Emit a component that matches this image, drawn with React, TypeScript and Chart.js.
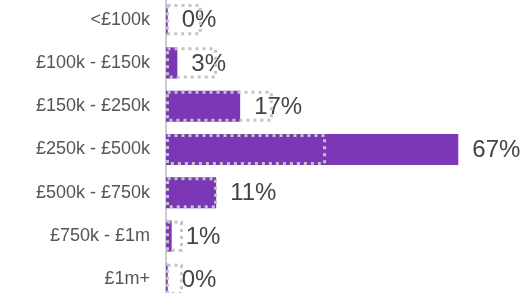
import React, { useEffect, useRef } from "react";
import { Chart, registerables } from "chart.js";

Chart.register(...registerables);

const categories = [
  "<£100k",
  "£100k - £150k",
  "£150k - £250k",
  "£250k - £500k",
  "£500k - £750k",
  "£750k - £1m",
  "£1m+",
];
const shareValues = [0.4, 2.6, 17, 67, 11.5, 1.3, 0.4];
const benchmarkValues = [8.2, 11.7, 24.5, 36.7, 11.7, 3.9, 3.9];
const valueLabels = ["0%", "3%", "17%", "67%", "11%", "1%", "0%"];

const FONT = "'Liberation Sans', Arial, sans-serif";

const overlayPlugin = {
  id: "overlay",
  afterDatasetsDraw(chart: any) {
    const ctx = chart.ctx;
    const shareMeta = chart.getDatasetMeta(0);
    const benchMeta = chart.getDatasetMeta(1);
    ctx.save();
    // value labels
    ctx.font = `24px ${FONT}`;
    ctx.fillStyle = "#444444";
    ctx.textAlign = "left";
    ctx.textBaseline = "middle";
    shareMeta.data.forEach((el: any, i: number) => {
      const p = el.getProps(["x", "y"], true);
      ctx.fillText(valueLabels[i], p.x + 14, p.y + 1);
    });
    // dotted benchmark boxes
    ctx.strokeStyle = "#c4c4c4";
    ctx.lineWidth = 3;
    ctx.setLineDash([3, 4]);
    benchMeta.data.forEach((el: any) => {
      const p = el.getProps(["x", "y", "base", "height"], true);
      const left = Math.min(p.base, p.x);
      const right = Math.max(p.base, p.x);
      const top = p.y - p.height / 2;
      const h = p.height;
      ctx.strokeRect(left + 1.5, top + 1.5, right - left - 3, h - 3);
    });
    ctx.restore();
  },
};

export default function App() {
  const ref = useRef<HTMLCanvasElement | null>(null);
  useEffect(() => {
    if (!ref.current) return;
    const chart = new Chart(ref.current, {
      type: "bar",
      data: {
        labels: categories,
        datasets: [
          {
            label: "Share",
            data: shareValues,
            backgroundColor: "#7b37b6",
            borderWidth: 0,
            grouped: false,
            barPercentage: 0.72,
            categoryPercentage: 1,
          } as any,
          {
            label: "Benchmark",
            data: benchmarkValues,
            backgroundColor: "rgba(0,0,0,0)",
            borderWidth: 0,
            grouped: false,
            barPercentage: 0.72,
            categoryPercentage: 1,
          } as any,
        ],
      },
      options: {
        indexAxis: "y",
        animation: false,
        responsive: false,
        maintainAspectRatio: false,
        layout: { padding: { top: 1, bottom: 2, left: 0, right: 14 } },
        plugins: {
          legend: { display: false },
          tooltip: { enabled: false },
        },
        scales: {
          x: {
            display: false,
            min: 0,
            max: 80,
          },
          y: {
            grid: { display: false },
            border: { display: true, color: "#cccccc", width: 2 },
            ticks: {
              color: "#555555",
              padding: 8,
              font: { family: FONT, size: 18 },
            },
            afterFit: (scale: any) => {
              scale.width = 166;
              scale.paddingTop = 0;
              scale.paddingBottom = 0;
            },
          },
        },
      },
      plugins: [overlayPlugin],
    });
    return () => chart.destroy();
  }, []);
  return (
    <div
      style={{
        position: "fixed",
        left: 0,
        top: -3,
        width: 529,
        height: 306,
        background: "#ffffff",
      }}
    >
      <canvas ref={ref} width={529} height={306} style={{ display: "block" }} />
    </div>
  );
}
